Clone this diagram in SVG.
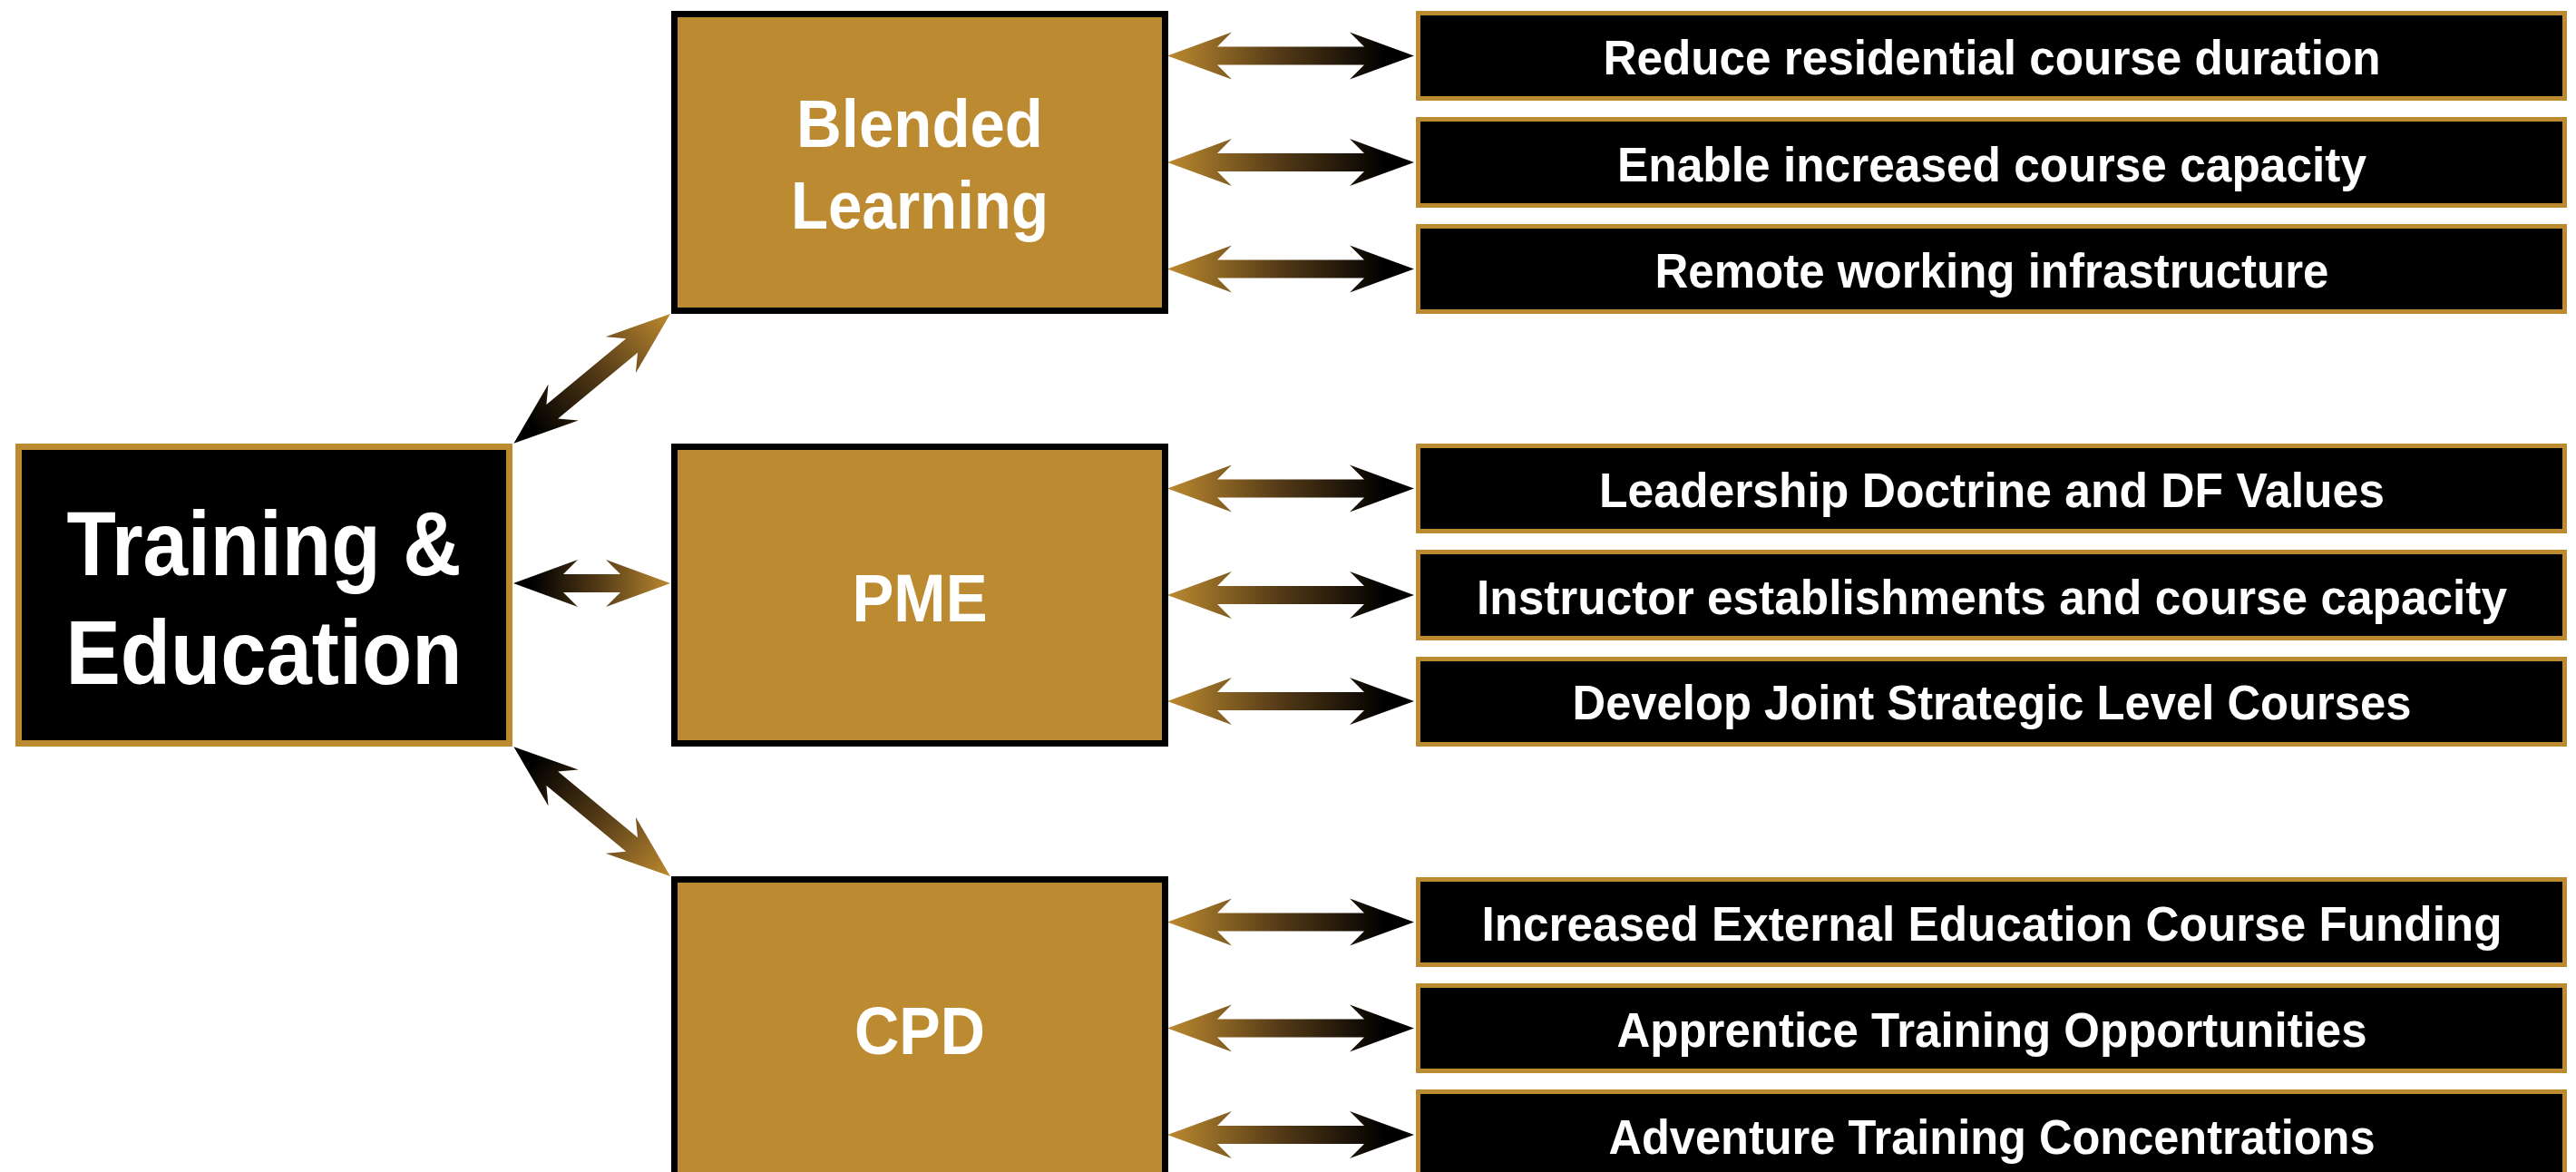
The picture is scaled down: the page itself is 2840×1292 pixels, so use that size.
<svg xmlns="http://www.w3.org/2000/svg" width="2840" height="1292" viewBox="0 0 2840 1292">
  <defs>
    <linearGradient id="arrowGrad" x1="0" y1="0" x2="1" y2="0">
      <stop offset="0" stop-color="#BC8A30"/>
      <stop offset="0.45" stop-color="#553b17"/>
      <stop offset="0.88" stop-color="#000000"/>
      <stop offset="1" stop-color="#000000"/>
    </linearGradient>
    <style>
      .mid { fill: #BC8A30; stroke: #000000; stroke-width: 7; }
      .root { fill: #000000; stroke: #BC8A30; stroke-width: 7; }
      .leaf { fill: #000000; stroke: #BC8A30; stroke-width: 5; }
      .arrow { fill: url(#arrowGrad); }
      text { font-family: "Liberation Sans", Arial, sans-serif; font-weight: bold; fill: #FFFFFF; text-anchor: middle; }
      .t-root { font-size: 100px; }
      .t-mid { font-size: 75px; }
      .t-leaf { font-size: 53px; }
    </style>
  </defs>
  <rect x="0" y="0" width="2840" height="1292" fill="#FFFFFF"/>

  <g id="connectors">
    <!-- Training <-> middle boxes -->
    <polygon class="arrow" transform="translate(739,346) rotate(140.4)" points="0,0 71,-26 55,-10 169,-10 153,-26 224,0 153,26 169,10 55,10 71,26"/>
    <polygon class="arrow" transform="translate(739,643) rotate(180)" points="0,0 71,-26 55,-10 118,-10 102,-26 173,0 102,26 118,10 55,10 71,26"/>
    <polygon class="arrow" transform="translate(739,966) rotate(-140.4)" points="0,0 71,-26 55,-10 169,-10 153,-26 224,0 153,26 169,10 55,10 71,26"/>
    <!-- middle boxes <-> leaves -->
    <polygon class="arrow" transform="translate(1287,61.5)" points="0,0 71,-26 55,-10 217,-10 201,-26 272,0 201,26 217,10 55,10 71,26"/>
    <polygon class="arrow" transform="translate(1287,179)" points="0,0 71,-26 55,-10 217,-10 201,-26 272,0 201,26 217,10 55,10 71,26"/>
    <polygon class="arrow" transform="translate(1287,296.5)" points="0,0 71,-26 55,-10 217,-10 201,-26 272,0 201,26 217,10 55,10 71,26"/>
    <polygon class="arrow" transform="translate(1287,538.5)" points="0,0 71,-26 55,-10 217,-10 201,-26 272,0 201,26 217,10 55,10 71,26"/>
    <polygon class="arrow" transform="translate(1287,656)" points="0,0 71,-26 55,-10 217,-10 201,-26 272,0 201,26 217,10 55,10 71,26"/>
    <polygon class="arrow" transform="translate(1287,773)" points="0,0 71,-26 55,-10 217,-10 201,-26 272,0 201,26 217,10 55,10 71,26"/>
    <polygon class="arrow" transform="translate(1287,1016.5)" points="0,0 71,-26 55,-10 217,-10 201,-26 272,0 201,26 217,10 55,10 71,26"/>
    <polygon class="arrow" transform="translate(1287,1133.5)" points="0,0 71,-26 55,-10 217,-10 201,-26 272,0 201,26 217,10 55,10 71,26"/>
    <polygon class="arrow" transform="translate(1287,1251)" points="0,0 71,-26 55,-10 217,-10 201,-26 272,0 201,26 217,10 55,10 71,26"/>
  </g>

  <g id="training-education">
    <rect class="root" x="20.5" y="492.5" width="541" height="327"/>
    <text class="t-root" x="291" y="634" textLength="435" lengthAdjust="spacingAndGlyphs">Training &amp;</text>
    <text class="t-root" x="291" y="754" textLength="437" lengthAdjust="spacingAndGlyphs">Education</text>
  </g>

  <g id="blended-learning">
    <rect class="mid" x="743.5" y="15.5" width="541" height="327"/>
    <text class="t-mid" x="1014" y="162" textLength="272" lengthAdjust="spacingAndGlyphs">Blended</text>
    <text class="t-mid" x="1014" y="252" textLength="284" lengthAdjust="spacingAndGlyphs">Learning</text>
  </g>

  <g id="pme">
    <rect class="mid" x="743.5" y="492.5" width="541" height="327"/>
    <text class="t-mid" x="1014" y="685" textLength="149" lengthAdjust="spacingAndGlyphs">PME</text>
  </g>

  <g id="cpd">
    <rect class="mid" x="743.5" y="969.5" width="541" height="327"/>
    <text class="t-mid" x="1014" y="1162" textLength="144" lengthAdjust="spacingAndGlyphs">CPD</text>
  </g>

  <g id="reduce-residential">
    <rect class="leaf" x="1563.5" y="14.5" width="1264" height="94"/>
    <text class="t-leaf" x="2196" y="82" textLength="857" lengthAdjust="spacingAndGlyphs">Reduce residential course duration</text>
  </g>
  <g id="enable-capacity">
    <rect class="leaf" x="1563.5" y="131.5" width="1264" height="95"/>
    <text class="t-leaf" x="2196" y="200" textLength="826" lengthAdjust="spacingAndGlyphs">Enable increased course capacity</text>
  </g>
  <g id="remote-working">
    <rect class="leaf" x="1563.5" y="249.5" width="1264" height="94"/>
    <text class="t-leaf" x="2196" y="317" textLength="743" lengthAdjust="spacingAndGlyphs">Remote working infrastructure</text>
  </g>

  <g id="leadership-doctrine">
    <rect class="leaf" x="1563.5" y="491.5" width="1264" height="94"/>
    <text class="t-leaf" x="2196" y="559" textLength="866" lengthAdjust="spacingAndGlyphs">Leadership Doctrine and DF Values</text>
  </g>
  <g id="instructor-establishments">
    <rect class="leaf" x="1563.5" y="608.5" width="1264" height="95"/>
    <text class="t-leaf" x="2196" y="677" textLength="1136" lengthAdjust="spacingAndGlyphs">Instructor establishments and course capacity</text>
  </g>
  <g id="joint-strategic">
    <rect class="leaf" x="1563.5" y="726.5" width="1264" height="94"/>
    <text class="t-leaf" x="2196" y="793" textLength="925" lengthAdjust="spacingAndGlyphs">Develop Joint Strategic Level Courses</text>
  </g>

  <g id="external-funding">
    <rect class="leaf" x="1563.5" y="969.5" width="1264" height="94"/>
    <text class="t-leaf" x="2196" y="1037" textLength="1125" lengthAdjust="spacingAndGlyphs">Increased External Education Course Funding</text>
  </g>
  <g id="apprentice-training">
    <rect class="leaf" x="1563.5" y="1086.5" width="1264" height="94"/>
    <text class="t-leaf" x="2196" y="1154" textLength="827" lengthAdjust="spacingAndGlyphs">Apprentice Training Opportunities</text>
  </g>
  <g id="adventure-training">
    <rect class="leaf" x="1563.5" y="1203.5" width="1264" height="94"/>
    <text class="t-leaf" x="2196" y="1272" textLength="845" lengthAdjust="spacingAndGlyphs">Adventure Training Concentrations</text>
  </g>
</svg>
